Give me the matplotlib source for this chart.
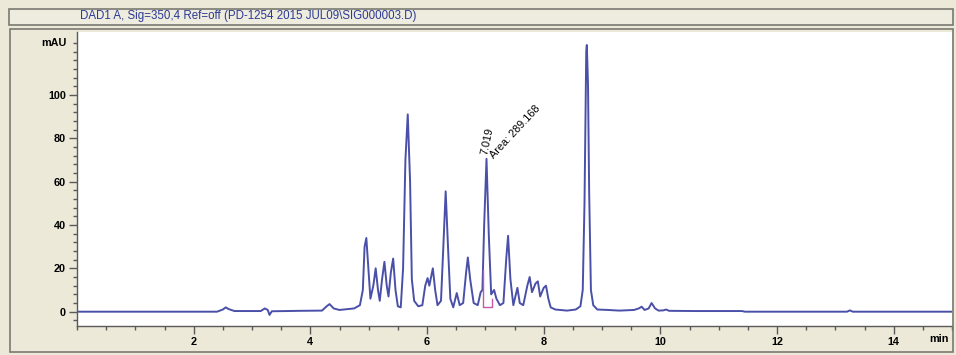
import matplotlib.pyplot as plt
from matplotlib.patches import Rectangle
from matplotlib.ticker import MultipleLocator

plt.rcParams['font.family'] = ['Liberation Sans', 'DejaVu Sans']

title = "DAD1 A, Sig=350,4 Ref=off (PD-1254 2015 JUL09\\SIG000003.D)"

# trace (time in min, signal in mAU)
times = [0.00, 2.40, 2.50, 2.55, 2.60, 2.70, 3.15, 3.22, 3.27, 3.30, 3.34, 3.60,
         3.82, 4.20, 4.28, 4.33, 4.40, 4.50, 4.75, 4.85,
         4.90, 4.93, 4.96, 4.99, 5.03, 5.08, 5.12, 5.16, 5.19, 5.23, 5.27, 5.31, 5.34,
         5.38, 5.42, 5.46, 5.50, 5.55, 5.59, 5.63, 5.67, 5.71, 5.74, 5.78, 5.85,
         5.92, 5.97, 6.01, 6.04, 6.10, 6.14, 6.18, 6.24, 6.28, 6.32, 6.36, 6.40,
         6.45, 6.51, 6.56, 6.62, 6.67, 6.70, 6.74, 6.80, 6.87, 6.92, 6.95, 6.98,
         7.02, 7.06, 7.10, 7.15, 7.19, 7.25, 7.31, 7.36, 7.39, 7.43, 7.48, 7.55,
         7.59, 7.65, 7.72, 7.76, 7.80, 7.86, 7.90, 7.94, 8.00, 8.04, 8.08, 8.12,
         8.20, 8.40, 8.55, 8.63, 8.67, 8.70, 8.73, 8.74, 8.76, 8.78, 8.81, 8.85,
         8.92, 9.10, 9.30, 9.55, 9.63, 9.68, 9.73, 9.80, 9.85, 9.91, 9.97, 10.05,
         10.10, 10.15, 10.60, 11.40, 11.45, 13.20, 13.25, 13.30, 15.00]
signal = [0.0, 0.0, 1.0, 2.0, 1.2, 0.3, 0.3, 1.5, 0.8, -1.5, 0.2, 0.3,
          0.4, 0.5, 2.5, 3.5, 1.5, 0.8, 1.5, 3.0,
          10, 30, 34, 22, 6, 12, 20, 10, 5, 15, 23, 12, 7,
          18, 24.5, 10, 2.5, 2, 20, 70, 91, 60, 15, 5, 2.5,
          3, 12, 15.5, 12, 20, 10, 3, 5, 30, 55.5, 30, 6,
          2, 8.6, 3, 4, 18, 25, 15, 4, 3, 9, 10, 40,
          70.5, 35, 8, 10, 6, 3, 4, 25, 35, 15, 3, 11,
          4, 3, 12, 16, 9, 13, 14, 7, 11, 12, 6, 2,
          1, 0.5, 1, 2.5, 10, 50, 120, 123, 105, 55, 10, 3,
          1, 0.8, 0.5, 0.8, 1.5, 2.3, 0.8, 1.5, 4, 1.5, 0.5, 0.6,
          1.0, 0.4, 0.3, 0.3, 0.0, 0.0, 0.6, 0.0, 0.0]

# integration marks of the labelled peak
peak_rt = 7.019
peak_area = 289.168
peak_height = 70.5
int_x = [6.96, 6.96, 7.11, 7.11]
int_y = [19, 2.3, 2.3, 6]

bg = '#ECE9D8'
line_col = '#4A50A8'

fig = plt.figure(figsize=(9.56, 3.55), dpi=100, facecolor=bg)

# title bar and panel frame
fig.patches.append(Rectangle((9 / 956, 1 - 25 / 355), 944 / 956, 16 / 355,
                             transform=fig.transFigure, facecolor='#EEEBDF',
                             edgecolor='#7A7A72', lw=1.2))
fig.patches.append(Rectangle((10 / 956, 1 - 352 / 355), 943 / 956, 323 / 355,
                             transform=fig.transFigure, facecolor='none',
                             edgecolor='#7A7A72', lw=1.2))
fig.text(80 / 956, 1 - 16.5 / 355, title, color='#2B3A94', fontsize=8.3,
         ha='left', va='center')

ax = fig.add_axes([77 / 956, 1 - 326 / 355, 875 / 956, 294 / 355])
ax.set_facecolor('white')
ax.plot(times, signal, color=line_col, lw=1.4)
ax.plot(int_x, int_y, color='#C658A8', lw=1.0)

ax.text(peak_rt - 0.03, peak_height + 2, f"{peak_rt:.3f}", rotation=78,
        rotation_mode='anchor', ha='left', va='center', fontsize=7.8)
ax.text(peak_rt + 0.10, peak_height + 1, f"Area: {peak_area}", rotation=47,
        rotation_mode='anchor', ha='left', va='center', fontsize=7.8)

ax.set_xlim(0, 15)
ax.set_ylim(-6.6, 129)
ax.set_xticks([2, 4, 6, 8, 10, 12, 14])
ax.xaxis.set_minor_locator(MultipleLocator(0.5))
ax.set_yticks([0, 20, 40, 60, 80, 100])
ax.set_yticks([v for v in range(-4, 128, 4)], minor=True)

for s in ['top', 'right']:
    ax.spines[s].set_visible(False)
for s in ['left', 'bottom']:
    ax.spines[s].set_color('#5A5A5A')
    ax.spines[s].set_linewidth(1.0)

ax.tick_params(which='major', direction='out', length=6, width=1,
               color='#5A5A5A', labelsize=7.8, pad=2)
ax.tick_params(which='minor', direction='out', length=3, width=1,
               color='#5A5A5A')
for lab in ax.get_xticklabels() + ax.get_yticklabels():
    lab.set_fontweight('bold')

ax.text(-0.012, 124, "mAU", transform=ax.get_yaxis_transform(), ha='right',
        va='center', fontsize=7.8, fontweight='bold')
ax.text(14.95, -12.5, "min", ha='right', va='center', fontsize=7.8,
        fontweight='bold')

fig.savefig('out.png', dpi=100, facecolor=bg)
